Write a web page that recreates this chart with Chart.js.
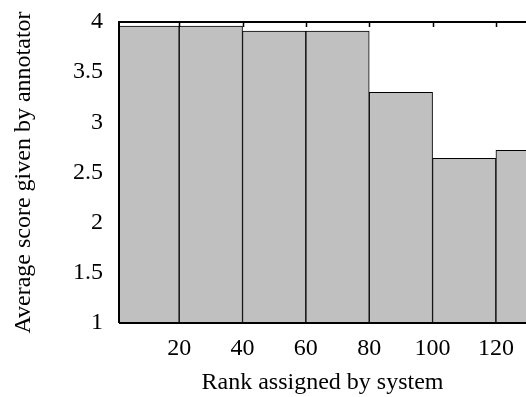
<!DOCTYPE html>
<html>
<head>
<meta charset="utf-8">
<script src="https://cdn.jsdelivr.net/npm/chart.js@4.4.1/dist/chart.umd.min.js"></script>
<style>
  html, body { margin: 0; padding: 0; background: #fff; }
  #wrap { width: 526px; height: 397px; }
</style>
</head>
<body>
<div id="wrap"><canvas id="myChart" width="526" height="397"></canvas></div>
<script>
// bins of 20 ranks, value = mean annotator score in that bin
const binCenters = [10, 30, 50, 70, 90, 110, 130];
const avgScores = [3.96, 3.96, 3.91, 3.91, 3.30, 2.64, 2.72];
const xTicks = [20, 40, 60, 80, 100, 120];
const yTicks = [1, 1.5, 2, 2.5, 3, 3.5, 4];

const serif = "'Liberation Serif', 'Times New Roman', serif";
const txt = { family: serif, size: 24, lineHeight: 1 };

// box around plot + small ticks on top edge
const frame = {
  id: 'frame',
  afterDatasetsDraw(chart) {
    const { ctx, chartArea: a, scales } = chart;
    ctx.save();
    ctx.strokeStyle = '#000';
    ctx.lineWidth = 2;
    ctx.beginPath();
    ctx.moveTo(a.left, a.bottom);
    ctx.lineTo(a.left, a.top);
    ctx.lineTo(a.right, a.top);
    ctx.moveTo(a.left, a.bottom);
    ctx.lineTo(a.right, a.bottom);
    ctx.stroke();
    ctx.lineWidth = 1.5;
    ctx.beginPath();
    xTicks.forEach(t => {
      const px = Math.round(scales.x.getPixelForValue(t)) + 0.5;
      ctx.moveTo(px, a.top);
      ctx.lineTo(px, a.top + 5);
    });
    ctx.stroke();
    ctx.restore();
  }
};

const ctx = document.getElementById('myChart');

new Chart(ctx, {
  type: 'bar',
  data: {
    datasets: [{
      data: binCenters.map((x, i) => ({ x: x, y: avgScores[i] })),
      backgroundColor: '#c0c0c0',
      borderColor: '#000',
      borderWidth: 1,
      barPercentage: 1,
      categoryPercentage: 1
    }]
  },
  options: {
    responsive: false,
    animation: false,
    layout: { padding: { top: 22, right: 0, left: 0, bottom: 0 } },
    plugins: { legend: { display: false }, tooltip: { enabled: false } },
    scales: {
      x: {
        type: 'linear',
        offset: false,
        min: 1,
        max: 129.5,
        afterBuildTicks: s => { s.ticks = xTicks.map(v => ({ value: v })); },
        afterFit: s => { s.height = 74; s.paddingLeft = 0; s.paddingRight = 0; },
        grid: { display: false, drawTicks: false, offset: false },
        border: { display: false },
        ticks: { color: '#000', padding: 14, font: txt, maxRotation: 0,
                 callback: v => String(v) },
        title: { display: true, text: 'Rank assigned by system', color: '#000',
                 font: txt, padding: { top: 0, bottom: 2 } }
      },
      y: {
        min: 1,
        max: 4,
        afterBuildTicks: s => { s.ticks = yTicks.map(v => ({ value: v })); },
        afterFit: s => { s.width = 119; s.paddingTop = 0; s.paddingBottom = 0; },
        grid: { display: false, drawTicks: false },
        border: { display: false },
        ticks: { color: '#000', padding: 16, font: txt,
                 callback: v => String(v) },
        title: { display: true, text: 'Average score given by annotator', color: '#000',
                 font: txt, padding: { top: 12, bottom: 0 } }
      }
    }
  },
  plugins: [frame]
});
</script>
</body>
</html>
